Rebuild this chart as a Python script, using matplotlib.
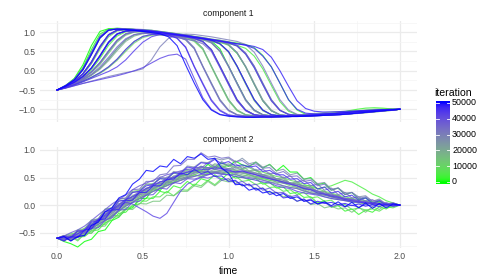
import numpy as np
import matplotlib
matplotlib.use("Agg")
import matplotlib.pyplot as plt
from matplotlib.colors import ListedColormap, Normalize

# ---------------- data ----------------
time1 = np.round(np.arange(41) * 0.05, 2)   # sample times, component 1
time2 = np.round(np.arange(51) * 0.04, 2)   # sample times, component 2

comp1_iteration = [0, 2500, 5000, 7500, 10000, 12500, 15000, 17500, 20000, 22500, 25000,
                   27500, 30000, 32500, 35000, 37500, 40000, 42500, 45000, 47500, 49000, 50000,
                   1000, 4000, 9000, 14000, 19000, 24000, 29000, 34000, 39000, 44000, 46000,
                   48000, 36000, 11000]
comp1_values = [
    [-0.5,-0.38,-0.2,0.15,0.65,1.02,1.09,1.1,1.09,1.07,1.06,1.04,1.01,0.98,0.95,0.92,0.88,0.85,0.77,0.57,0.12,-0.32,-0.75,-1.02,-1.14,-1.17,-1.18,-1.17,-1.16,-1.15,-1.14,-1.13,-1.12,-1.1,-1.09,-1.08,-1.06,-1.05,-1.03,-1.02,-1.0],
    [-0.5,-0.4,-0.27,-0.08,0.22,0.62,0.93,1.05,1.07,1.06,1.05,1.05,1.02,0.99,0.96,0.93,0.89,0.86,0.82,0.79,0.75,0.72,0.68,0.6,0.4,0.1,-0.32,-0.75,-1.02,-1.13,-1.15,-1.15,-1.13,-1.09,-1.04,-1.0,-0.97,-0.96,-0.97,-0.99,-1.0],
    [-0.5,-0.43,-0.34,-0.24,-0.11,0.06,0.3,0.57,0.8,0.93,0.98,0.99,0.96,0.93,0.9,0.87,0.79,0.58,0.12,-0.32,-0.75,-1.02,-1.14,-1.17,-1.18,-1.18,-1.17,-1.17,-1.16,-1.15,-1.14,-1.13,-1.12,-1.11,-1.1,-1.09,-1.07,-1.06,-1.04,-1.02,-1.0],
    [-0.5,-0.39,-0.24,0.02,0.42,0.85,1.05,1.09,1.08,1.07,1.05,1.02,0.99,0.96,0.93,0.9,0.86,0.83,0.79,0.7,0.5,0.12,-0.32,-0.75,-1.02,-1.14,-1.17,-1.18,-1.17,-1.16,-1.14,-1.12,-1.1,-1.08,-1.06,-1.04,-1.02,-1.0,-0.99,-0.99,-1.0],
    [-0.5,-0.42,-0.32,-0.2,-0.03,0.2,0.5,0.78,0.95,1.01,1.02,1.0,0.97,0.94,0.91,0.88,0.84,0.76,0.55,0.12,-0.32,-0.75,-1.02,-1.14,-1.17,-1.19,-1.19,-1.18,-1.18,-1.17,-1.16,-1.15,-1.14,-1.13,-1.11,-1.1,-1.08,-1.06,-1.04,-1.02,-1.0],
    [-0.5,-0.41,-0.3,-0.15,0.07,0.38,0.73,0.95,1.03,1.05,1.04,1.03,1.0,0.97,0.94,0.91,0.87,0.84,0.8,0.77,0.73,0.65,0.45,0.12,-0.32,-0.75,-1.02,-1.13,-1.16,-1.16,-1.15,-1.14,-1.12,-1.1,-1.08,-1.06,-1.04,-1.03,-1.02,-1.01,-1.0],
    [-0.5,-0.44,-0.36,-0.27,-0.17,-0.05,0.1,0.3,0.55,0.76,0.89,0.94,0.94,0.91,0.88,0.8,0.58,0.12,-0.32,-0.75,-1.02,-1.14,-1.18,-1.2,-1.2,-1.2,-1.19,-1.19,-1.18,-1.17,-1.16,-1.15,-1.14,-1.13,-1.12,-1.1,-1.08,-1.06,-1.04,-1.02,-1.0],
    [-0.5,-0.4,-0.27,-0.08,0.22,0.62,0.93,1.05,1.07,1.06,1.04,1.02,0.99,0.96,0.93,0.9,0.86,0.83,0.72,0.5,0.12,-0.32,-0.75,-1.02,-1.14,-1.17,-1.17,-1.16,-1.15,-1.13,-1.11,-1.09,-1.07,-1.06,-1.05,-1.04,-1.03,-1.02,-1.01,-1.0,-1.0],
    [-0.5,-0.42,-0.32,-0.2,-0.03,0.2,0.5,0.78,0.95,1.01,1.03,1.04,1.01,0.98,0.95,0.92,0.88,0.85,0.81,0.78,0.68,0.47,0.12,-0.32,-0.75,-1.02,-1.14,-1.17,-1.18,-1.17,-1.16,-1.15,-1.13,-1.11,-1.09,-1.07,-1.05,-1.04,-1.02,-1.01,-1.0],
    [-0.5,-0.39,-0.24,0.02,0.42,0.85,1.05,1.09,1.08,1.06,1.03,1.01,0.98,0.95,0.92,0.89,0.8,0.58,0.12,-0.32,-0.75,-1.02,-1.14,-1.17,-1.18,-1.18,-1.17,-1.16,-1.15,-1.14,-1.13,-1.12,-1.11,-1.1,-1.09,-1.08,-1.07,-1.05,-1.03,-1.02,-1.0],
    [-0.5,-0.41,-0.3,-0.15,0.07,0.38,0.73,0.95,1.03,1.03,1.0,0.98,0.95,0.92,0.89,0.86,0.82,0.74,0.54,0.12,-0.32,-0.75,-1.02,-1.14,-1.17,-1.18,-1.18,-1.17,-1.16,-1.15,-1.14,-1.13,-1.12,-1.11,-1.1,-1.08,-1.07,-1.05,-1.03,-1.02,-1.0],
    [-0.5,-0.43,-0.34,-0.24,-0.11,0.06,0.3,0.57,0.8,0.93,0.98,1.0,0.97,0.94,0.91,0.88,0.84,0.81,0.77,0.69,0.49,0.12,-0.32,-0.75,-1.02,-1.14,-1.17,-1.18,-1.17,-1.16,-1.15,-1.13,-1.11,-1.09,-1.07,-1.05,-1.03,-1.02,-1.01,-1.0,-1.0],
    [-0.5,-0.45,-0.39,-0.33,-0.27,-0.21,-0.15,-0.1,-0.05,-0.01,0.05,0.28,0.62,0.84,0.93,0.95,0.94,0.91,0.88,0.84,0.8,0.76,0.68,0.48,0.12,-0.32,-0.75,-1.02,-1.13,-1.16,-1.17,-1.16,-1.14,-1.12,-1.1,-1.08,-1.06,-1.04,-1.02,-1.01,-1.0],
    [-0.5,-0.4,-0.27,-0.08,0.22,0.62,0.93,1.05,1.07,1.05,1.02,1.0,0.97,0.94,0.91,0.83,0.6,0.12,-0.32,-0.75,-1.02,-1.14,-1.17,-1.19,-1.19,-1.19,-1.18,-1.18,-1.17,-1.17,-1.16,-1.15,-1.14,-1.13,-1.12,-1.1,-1.08,-1.06,-1.04,-1.02,-1.0],
    [-0.5,-0.42,-0.32,-0.2,-0.03,0.2,0.5,0.78,0.95,1.01,1.03,1.03,1.0,0.97,0.94,0.91,0.87,0.84,0.74,0.52,0.12,-0.32,-0.75,-1.02,-1.14,-1.17,-1.18,-1.18,-1.17,-1.16,-1.15,-1.13,-1.12,-1.1,-1.09,-1.07,-1.06,-1.04,-1.03,-1.01,-1.0],
    [-0.5,-0.39,-0.24,0.02,0.42,0.85,1.05,1.09,1.09,1.08,1.07,1.05,1.02,0.99,0.96,0.93,0.89,0.86,0.82,0.79,0.75,0.66,0.46,0.12,-0.32,-0.75,-1.02,-1.14,-1.17,-1.17,-1.16,-1.14,-1.12,-1.1,-1.08,-1.06,-1.04,-1.03,-1.02,-1.01,-1.0],
    [-0.5,-0.41,-0.3,-0.15,0.07,0.38,0.73,0.95,1.03,1.04,1.02,1.0,0.97,0.94,0.85,0.62,0.12,-0.32,-0.75,-1.02,-1.14,-1.18,-1.2,-1.2,-1.2,-1.2,-1.19,-1.19,-1.18,-1.18,-1.17,-1.16,-1.15,-1.14,-1.12,-1.1,-1.08,-1.06,-1.04,-1.02,-1.0],
    [-0.5,-0.45,-0.39,-0.33,-0.28,-0.23,-0.18,-0.13,-0.07,0.0,0.08,0.2,0.32,0.4,0.43,0.3,-0.2,-0.7,-1.0,-1.13,-1.17,-1.18,-1.18,-1.18,-1.17,-1.17,-1.16,-1.16,-1.15,-1.15,-1.14,-1.13,-1.12,-1.11,-1.1,-1.08,-1.06,-1.05,-1.03,-1.02,-1.0],
    [-0.5,-0.44,-0.36,-0.27,-0.17,-0.05,0.1,0.3,0.55,0.76,0.89,0.94,0.95,0.93,0.91,0.88,0.84,0.76,0.55,0.12,-0.32,-0.75,-1.02,-1.14,-1.17,-1.18,-1.18,-1.17,-1.17,-1.16,-1.15,-1.14,-1.13,-1.12,-1.1,-1.09,-1.07,-1.05,-1.03,-1.02,-1.0],
    [-0.5,-0.4,-0.27,-0.08,0.22,0.62,0.93,1.05,1.07,1.06,1.05,1.03,1.0,0.97,0.94,0.91,0.87,0.84,0.8,0.77,0.73,0.7,0.66,0.58,0.38,0.1,-0.32,-0.75,-1.0,-1.1,-1.12,-1.12,-1.11,-1.1,-1.08,-1.06,-1.05,-1.04,-1.02,-1.01,-1.0],
    [-0.5,-0.41,-0.3,-0.15,0.07,0.38,0.73,0.95,1.03,1.05,1.04,1.02,0.99,0.96,0.93,0.9,0.86,0.83,0.79,0.7,0.5,0.12,-0.32,-0.75,-1.02,-1.14,-1.17,-1.18,-1.17,-1.16,-1.15,-1.13,-1.12,-1.1,-1.08,-1.06,-1.05,-1.03,-1.02,-1.01,-1.0],
    [-0.5,-0.39,-0.24,0.02,0.42,0.85,1.05,1.08,1.07,1.05,1.02,0.99,0.96,0.88,0.65,0.15,-0.32,-0.75,-1.02,-1.14,-1.18,-1.2,-1.21,-1.21,-1.2,-1.2,-1.2,-1.19,-1.19,-1.18,-1.17,-1.16,-1.15,-1.14,-1.12,-1.1,-1.08,-1.06,-1.04,-1.02,-1.0],
    [-0.5,-0.39,-0.22,0.08,0.55,0.95,1.08,1.1,1.09,1.07,1.05,1.03,1.0,0.97,0.94,0.91,0.88,0.84,0.8,0.76,0.67,0.45,0.1,-0.35,-0.78,-1.04,-1.15,-1.17,-1.17,-1.16,-1.15,-1.13,-1.11,-1.1,-1.08,-1.07,-1.05,-1.04,-1.02,-1.01,-1.0],
    [-0.5,-0.42,-0.31,-0.17,0.03,0.32,0.66,0.9,1.01,1.04,1.04,1.02,0.99,0.96,0.92,0.89,0.85,0.81,0.77,0.73,0.7,0.66,0.58,0.38,0.05,-0.38,-0.8,-1.05,-1.14,-1.16,-1.16,-1.15,-1.13,-1.11,-1.09,-1.07,-1.05,-1.04,-1.02,-1.01,-1.0],
    [-0.5,-0.4,-0.28,-0.1,0.18,0.56,0.88,1.03,1.06,1.05,1.03,1.0,0.96,0.92,0.88,0.84,0.76,0.55,0.1,-0.35,-0.78,-1.04,-1.15,-1.18,-1.19,-1.19,-1.18,-1.18,-1.17,-1.16,-1.16,-1.15,-1.14,-1.13,-1.12,-1.1,-1.09,-1.07,-1.05,-1.03,-1.0],
    [-0.5,-0.42,-0.33,-0.21,-0.05,0.16,0.45,0.74,0.92,1.0,1.02,1.01,0.98,0.95,0.92,0.88,0.85,0.81,0.78,0.7,0.48,0.1,-0.35,-0.78,-1.04,-1.14,-1.17,-1.18,-1.18,-1.17,-1.16,-1.15,-1.13,-1.12,-1.1,-1.08,-1.06,-1.04,-1.03,-1.01,-1.0],
    [-0.5,-0.43,-0.35,-0.25,-0.12,0.04,0.26,0.52,0.76,0.9,0.96,0.98,0.97,0.95,0.92,0.89,0.86,0.82,0.79,0.75,0.72,0.64,0.43,0.08,-0.36,-0.78,-1.03,-1.13,-1.16,-1.16,-1.15,-1.14,-1.12,-1.1,-1.08,-1.06,-1.05,-1.03,-1.02,-1.01,-1.0],
    [-0.5,-0.38,-0.22,0.06,0.48,0.9,1.07,1.09,1.08,1.06,1.04,1.01,0.98,0.94,0.91,0.87,0.84,0.8,0.72,0.5,0.1,-0.35,-0.78,-1.04,-1.15,-1.18,-1.19,-1.19,-1.18,-1.17,-1.16,-1.15,-1.14,-1.12,-1.1,-1.09,-1.07,-1.05,-1.03,-1.02,-1.0],
    [-0.5,-0.41,-0.28,-0.1,0.2,0.6,0.92,1.05,1.07,1.06,1.04,1.02,0.99,0.96,0.93,0.9,0.86,0.83,0.8,0.76,0.68,0.47,0.1,-0.35,-0.78,-1.04,-1.14,-1.17,-1.17,-1.17,-1.16,-1.15,-1.13,-1.12,-1.1,-1.08,-1.06,-1.04,-1.03,-1.01,-1.0],
    [-0.5,-0.42,-0.32,-0.19,-0.02,0.22,0.52,0.8,0.96,1.02,1.02,0.99,0.95,0.92,0.88,0.8,0.57,0.1,-0.35,-0.78,-1.04,-1.15,-1.19,-1.2,-1.2,-1.2,-1.19,-1.19,-1.18,-1.18,-1.17,-1.16,-1.15,-1.14,-1.13,-1.11,-1.09,-1.07,-1.05,-1.03,-1.0],
    [-0.5,-0.4,-0.27,-0.08,0.24,0.64,0.94,1.06,1.08,1.07,1.05,1.02,0.99,0.95,0.92,0.88,0.84,0.76,0.54,0.1,-0.35,-0.78,-1.04,-1.15,-1.18,-1.19,-1.19,-1.18,-1.18,-1.17,-1.16,-1.15,-1.14,-1.13,-1.12,-1.1,-1.08,-1.06,-1.04,-1.02,-1.0],
    [-0.5,-0.44,-0.37,-0.29,-0.2,-0.11,-0.02,0.1,0.28,0.52,0.74,0.88,0.94,0.95,0.93,0.9,0.87,0.83,0.8,0.76,0.72,0.64,0.43,0.08,-0.36,-0.78,-1.03,-1.13,-1.16,-1.16,-1.15,-1.14,-1.12,-1.1,-1.08,-1.06,-1.05,-1.03,-1.02,-1.01,-1.0],
    [-0.5,-0.38,-0.23,0.05,0.47,0.88,1.06,1.08,1.07,1.05,1.02,0.99,0.96,0.92,0.84,0.6,0.1,-0.35,-0.78,-1.04,-1.16,-1.19,-1.2,-1.2,-1.2,-1.2,-1.19,-1.19,-1.18,-1.18,-1.17,-1.16,-1.15,-1.14,-1.12,-1.1,-1.08,-1.06,-1.04,-1.02,-1.0],
    [-0.5,-0.41,-0.3,-0.15,0.07,0.4,0.75,0.96,1.03,1.04,1.03,1.02,1.0,0.97,0.94,0.91,0.88,0.84,0.81,0.77,0.74,0.7,0.67,0.63,0.55,0.35,0.0,-0.4,-0.78,-0.98,-1.05,-1.07,-1.07,-1.06,-1.05,-1.04,-1.03,-1.02,-1.01,-1.0,-1.0],
    [-0.5,-0.43,-0.34,-0.23,-0.09,0.1,0.35,0.62,0.83,0.94,0.97,0.96,0.93,0.9,0.86,0.82,0.78,0.7,0.5,0.08,-0.36,-0.78,-1.03,-1.14,-1.17,-1.18,-1.18,-1.17,-1.17,-1.16,-1.15,-1.14,-1.13,-1.12,-1.11,-1.09,-1.07,-1.05,-1.03,-1.02,-1.0],
    [-0.5,-0.44,-0.37,-0.28,-0.18,-0.07,0.08,0.27,0.5,0.72,0.86,0.92,0.93,0.91,0.89,0.86,0.83,0.8,0.77,0.74,0.66,0.46,0.1,-0.35,-0.78,-1.04,-1.14,-1.17,-1.18,-1.17,-1.16,-1.14,-1.13,-1.11,-1.09,-1.07,-1.05,-1.04,-1.02,-1.01,-1.0],
]

comp2_iteration = [0, 2000, 4000, 6000, 8000, 10000, 12000, 14000, 16000, 18000, 20000, 22000, 24000,
                   26000, 28000, 30000, 32000, 34000, 36000, 38000, 40000, 42000, 44000, 46000, 48000, 50000]
comp2_values = [
    [-0.6,-0.66,-0.7,-0.76,-0.66,-0.62,-0.48,-0.45,-0.28,-0.22,-0.08,-0.05,0.12,0.12,0.3,0.26,0.42,0.4,0.53,0.55,0.63,0.62,0.74,0.65,0.77,0.7,0.8,0.73,0.7,0.78,0.67,0.74,0.62,0.72,0.6,0.6,0.47,0.5,0.37,0.4,0.27,0.31,0.19,0.23,0.11,0.13,0.05,0.07,0.0,0.03,0.0],
    [-0.6,-0.56,-0.64,-0.58,-0.57,-0.47,-0.45,-0.32,-0.27,-0.15,-0.13,0.0,0.02,0.13,0.12,0.25,0.22,0.35,0.31,0.43,0.35,0.48,0.44,0.55,0.47,0.58,0.49,0.51,0.46,0.48,0.38,0.41,0.31,0.33,0.21,0.23,0.14,0.15,0.04,0.08,-0.04,-0.01,-0.11,-0.07,-0.17,-0.09,-0.13,-0.03,-0.07,0.0,0.0],
    [-0.6,-0.6,-0.56,-0.58,-0.5,-0.44,-0.35,-0.28,-0.2,-0.12,-0.02,0.05,0.12,0.18,0.25,0.3,0.35,0.42,0.45,0.5,0.55,0.52,0.58,0.6,0.56,0.6,0.55,0.52,0.55,0.5,0.48,0.45,0.46,0.42,0.4,0.38,0.35,0.36,0.3,0.32,0.35,0.4,0.45,0.42,0.35,0.28,0.2,0.15,0.08,0.04,0.0],
    [-0.6,-0.64,-0.57,-0.65,-0.52,-0.51,-0.37,-0.35,-0.19,-0.19,-0.05,-0.03,0.08,0.07,0.15,0.15,0.25,0.17,0.28,0.27,0.38,0.35,0.45,0.37,0.48,0.45,0.53,0.43,0.45,0.37,0.41,0.32,0.33,0.25,0.28,0.19,0.23,0.13,0.15,0.07,0.09,-0.01,0.01,-0.08,-0.05,-0.09,-0.07,-0.11,-0.03,-0.05,0.0],
    [-0.6,-0.56,-0.52,-0.5,-0.42,-0.35,-0.25,-0.18,-0.08,0.0,0.08,0.15,0.2,0.28,0.35,0.38,0.45,0.5,0.52,0.58,0.62,0.6,0.65,0.7,0.68,0.72,0.7,0.66,0.68,0.62,0.6,0.56,0.52,0.5,0.45,0.42,0.38,0.33,0.3,0.25,0.22,0.18,0.15,0.12,0.1,0.08,0.05,0.04,0.02,0.01,0.0],
    [-0.6,-0.6,-0.63,-0.58,-0.55,-0.46,-0.4,-0.3,-0.18,-0.1,0.0,0.05,0.15,0.2,0.28,0.32,0.38,0.45,0.48,0.52,0.55,0.6,0.58,0.62,0.6,0.58,0.62,0.58,0.55,0.52,0.5,0.45,0.42,0.4,0.35,0.32,0.28,0.22,0.2,0.18,0.15,0.12,0.1,0.06,0.05,0.02,0.03,0.0,0.01,0.0,0.0],
    [-0.6,-0.56,-0.58,-0.45,-0.43,-0.27,-0.25,-0.07,-0.05,0.11,0.12,0.25,0.27,0.38,0.39,0.48,0.47,0.58,0.55,0.65,0.62,0.71,0.63,0.73,0.69,0.73,0.63,0.65,0.61,0.63,0.53,0.55,0.47,0.48,0.39,0.41,0.29,0.33,0.22,0.25,0.15,0.18,0.09,0.13,0.05,0.08,0.01,0.05,0.0,0.03,0.0],
    [-0.6,-0.65,-0.55,-0.63,-0.52,-0.51,-0.39,-0.38,-0.22,-0.21,-0.07,-0.08,0.03,0.02,0.07,0.07,0.18,0.17,0.25,0.25,0.35,0.32,0.43,0.35,0.45,0.42,0.43,0.35,0.38,0.29,0.31,0.22,0.23,0.15,0.18,0.07,0.11,0.01,0.03,-0.05,-0.02,-0.07,-0.05,-0.13,-0.04,-0.13,-0.03,-0.08,0.01,-0.03,0.0],
    [-0.6,-0.6,-0.55,-0.52,-0.45,-0.38,-0.3,-0.2,-0.12,-0.02,0.05,0.12,0.2,0.25,0.32,0.35,0.42,0.48,0.5,0.55,0.6,0.62,0.68,0.65,0.7,0.66,0.62,0.6,0.56,0.58,0.52,0.5,0.45,0.42,0.4,0.35,0.3,0.28,0.22,0.2,0.16,0.14,0.1,0.08,0.06,0.05,0.02,0.03,0.0,0.01,0.0],
    [-0.6,-0.64,-0.6,-0.56,-0.5,-0.42,-0.32,-0.25,-0.15,-0.05,0.02,0.1,0.15,0.22,0.28,0.35,0.38,0.42,0.48,0.5,0.55,0.52,0.56,0.6,0.58,0.62,0.58,0.55,0.52,0.5,0.46,0.42,0.4,0.35,0.32,0.3,0.25,0.22,0.2,0.15,0.12,0.1,0.08,0.05,0.04,0.02,0.03,0.01,0.0,-0.01,0.0],
    [-0.6,-0.55,-0.59,-0.47,-0.49,-0.33,-0.31,-0.15,-0.13,0.03,0.03,0.18,0.19,0.31,0.32,0.43,0.42,0.53,0.52,0.63,0.59,0.69,0.67,0.75,0.72,0.75,0.67,0.71,0.62,0.65,0.55,0.58,0.47,0.51,0.39,0.43,0.32,0.33,0.25,0.25,0.17,0.18,0.09,0.13,0.05,0.08,0.01,0.05,0.0,0.02,0.0],
    [-0.6,-0.6,-0.62,-0.58,-0.5,-0.42,-0.35,-0.25,-0.18,-0.08,0.0,0.08,0.12,0.2,0.25,0.3,0.35,0.4,0.45,0.48,0.52,0.55,0.6,0.58,0.62,0.6,0.58,0.6,0.55,0.52,0.5,0.48,0.42,0.4,0.38,0.32,0.3,0.25,0.22,0.2,0.15,0.12,0.1,0.08,0.05,0.06,0.03,0.02,0.0,0.01,0.0],
    [-0.6,-0.57,-0.6,-0.55,-0.48,-0.4,-0.3,-0.22,-0.12,-0.05,0.05,0.1,0.18,0.25,0.3,0.38,0.42,0.45,0.52,0.55,0.58,0.62,0.6,0.65,0.62,0.66,0.64,0.6,0.62,0.58,0.55,0.5,0.48,0.45,0.4,0.38,0.35,0.3,0.26,0.22,0.2,0.16,0.12,0.1,0.08,0.06,0.04,0.03,0.01,0.0,0.0],
    [-0.6,-0.57,-0.58,-0.47,-0.45,-0.29,-0.28,-0.12,-0.08,0.08,0.09,0.23,0.25,0.38,0.37,0.51,0.49,0.61,0.59,0.71,0.69,0.78,0.77,0.85,0.82,0.85,0.77,0.85,0.75,0.78,0.69,0.73,0.62,0.65,0.55,0.58,0.47,0.48,0.39,0.41,0.29,0.31,0.22,0.23,0.15,0.17,0.07,0.11,0.02,0.04,0.0],
    [-0.6,-0.62,-0.58,-0.54,-0.5,-0.4,-0.32,-0.22,-0.15,-0.05,0.02,0.1,0.18,0.22,0.3,0.35,0.4,0.45,0.48,0.52,0.58,0.6,0.62,0.6,0.64,0.62,0.6,0.58,0.6,0.55,0.52,0.5,0.45,0.42,0.4,0.35,0.32,0.28,0.25,0.2,0.18,0.15,0.12,0.1,0.06,0.05,0.03,0.02,0.01,0.0,0.0],
    [-0.6,-0.58,-0.54,-0.52,-0.44,-0.35,-0.26,-0.15,-0.08,0.02,0.1,0.16,0.25,0.3,0.36,0.42,0.46,0.52,0.56,0.6,0.64,0.68,0.66,0.7,0.68,0.66,0.68,0.64,0.6,0.58,0.55,0.52,0.48,0.45,0.4,0.38,0.34,0.3,0.25,0.22,0.2,0.16,0.12,0.1,0.08,0.05,0.04,0.02,0.01,0.01,0.0],
    [-0.6,-0.65,-0.57,-0.58,-0.45,-0.41,-0.27,-0.23,-0.07,-0.05,0.11,0.12,0.25,0.27,0.39,0.39,0.51,0.49,0.61,0.59,0.69,0.67,0.77,0.69,0.79,0.71,0.75,0.67,0.71,0.63,0.65,0.57,0.58,0.49,0.53,0.42,0.45,0.35,0.38,0.27,0.31,0.19,0.23,0.13,0.15,0.07,0.1,0.02,0.05,0.0,0.0],
    [-0.6,-0.55,-0.58,-0.47,-0.45,-0.29,-0.25,-0.09,-0.05,0.11,0.13,0.28,0.29,0.43,0.43,0.55,0.57,0.71,0.72,0.83,0.83,0.95,0.87,0.89,0.85,0.87,0.79,0.81,0.72,0.75,0.67,0.68,0.57,0.61,0.52,0.53,0.43,0.45,0.35,0.38,0.27,0.31,0.19,0.23,0.12,0.15,0.07,0.09,0.02,0.04,0.0],
    [-0.6,-0.6,-0.62,-0.56,-0.5,-0.42,-0.35,-0.28,-0.2,-0.1,-0.02,0.05,0.12,0.18,0.25,0.3,0.36,0.4,0.45,0.5,0.52,0.56,0.55,0.6,0.58,0.55,0.56,0.52,0.5,0.48,0.45,0.42,0.38,0.35,0.32,0.3,0.26,0.22,0.2,0.18,0.15,0.12,0.1,0.08,0.06,0.05,0.03,0.02,0.0,0.01,0.0],
    [-0.6,-0.56,-0.5,-0.45,-0.38,-0.28,-0.18,-0.08,0.02,0.1,0.18,0.28,0.35,0.4,0.45,0.5,0.55,0.58,0.62,0.65,0.66,0.7,0.68,0.65,0.66,0.62,0.6,0.62,0.58,0.55,0.5,0.48,0.45,0.4,0.38,0.35,0.3,0.28,0.25,0.2,0.18,0.15,0.12,0.1,0.08,0.06,0.04,0.02,0.02,0.0,0.0],
    [-0.6,-0.57,-0.65,-0.57,-0.55,-0.42,-0.41,-0.27,-0.23,-0.09,-0.08,0.05,0.07,0.18,0.19,0.31,0.29,0.41,0.39,0.48,0.47,0.51,0.49,0.53,0.45,0.48,0.39,0.43,0.35,0.38,0.27,0.31,0.22,0.23,0.15,0.18,0.07,0.11,0.02,0.05,-0.03,0.01,-0.03,0.0,-0.04,0.01,-0.02,0.02,-0.02,0.01,0.0],
    [-0.6,-0.62,-0.58,-0.52,-0.45,-0.38,-0.28,-0.2,-0.1,-0.02,0.05,0.02,-0.05,-0.12,-0.2,-0.24,-0.15,0.05,0.25,0.38,0.45,0.5,0.55,0.58,0.56,0.55,0.52,0.5,0.48,0.45,0.42,0.4,0.35,0.32,0.3,0.25,0.22,0.2,0.18,0.15,0.12,0.1,0.08,0.06,0.05,0.04,0.02,0.02,0.0,0.01,0.0],
    [-0.6,-0.58,-0.6,-0.52,-0.46,-0.36,-0.26,-0.18,-0.08,0.0,0.1,0.15,0.22,0.3,0.35,0.42,0.45,0.5,0.55,0.6,0.62,0.65,0.64,0.68,0.66,0.64,0.6,0.62,0.58,0.55,0.52,0.48,0.45,0.42,0.38,0.35,0.3,0.28,0.22,0.2,0.16,0.14,0.1,0.08,0.06,0.04,0.03,0.01,0.02,0.0,0.0],
    [-0.6,-0.57,-0.59,-0.47,-0.47,-0.31,-0.28,-0.12,-0.09,0.07,0.09,0.23,0.25,0.35,0.37,0.48,0.47,0.59,0.57,0.69,0.67,0.77,0.75,0.83,0.75,0.79,0.71,0.73,0.69,0.71,0.61,0.63,0.55,0.55,0.47,0.48,0.39,0.41,0.29,0.33,0.22,0.25,0.15,0.18,0.09,0.13,0.03,0.08,0.0,0.03,0.0],
    [-0.6,-0.65,-0.57,-0.59,-0.45,-0.43,-0.27,-0.25,-0.09,-0.08,0.08,0.09,0.23,0.23,0.35,0.35,0.47,0.47,0.58,0.55,0.65,0.57,0.61,0.52,0.53,0.43,0.45,0.35,0.38,0.27,0.31,0.19,0.23,0.13,0.15,0.07,0.11,0.02,0.07,0.03,0.05,0.01,0.03,-0.01,0.02,-0.02,0.01,-0.03,0.02,-0.02,0.0],
    [-0.6,-0.57,-0.65,-0.57,-0.55,-0.37,-0.31,-0.12,-0.05,0.13,0.19,0.38,0.47,0.63,0.61,0.71,0.69,0.83,0.75,0.88,0.85,0.93,0.83,0.85,0.67,0.58,0.37,0.38,0.27,0.31,0.22,0.25,0.17,0.21,0.12,0.15,0.07,0.09,0.02,0.06,-0.01,0.06,-0.03,0.05,-0.05,0.04,-0.06,0.03,-0.05,0.02,0.0],
]

iter_breaks = [0, 10000, 20000, 30000, 40000, 50000]
iter_labels = ["0", "10000", "20000", "30000", "40000", "50000"]
x_breaks = [0.0, 0.5, 1.0, 1.5, 2.0]
x_labels = ["0.0", "0.5", "1.0", "1.5", "2.0"]
y1_breaks = [-1.0, -0.5, 0.0, 0.5, 1.0]
y2_breaks = [-0.5, 0.0, 0.5, 1.0]

# ---------------- colour scale (Lab interpolation green -> blue) ----------------
def srgb_to_lab(rgb):
    rgb = np.asarray(rgb, float)
    lin = np.where(rgb <= 0.04045, rgb / 12.92, ((rgb + 0.055) / 1.055) ** 2.4)
    M = np.array([[0.4124564, 0.3575761, 0.1804375],
                  [0.2126729, 0.7151522, 0.0721750],
                  [0.0193339, 0.1191920, 0.9503041]])
    xyz = M @ lin / np.array([0.95047, 1.0, 1.08883])
    d = 6 / 29
    f = np.where(xyz > d ** 3, np.cbrt(xyz), xyz / (3 * d * d) + 4 / 29)
    return np.array([116 * f[1] - 16, 500 * (f[0] - f[1]), 200 * (f[1] - f[2])])

def lab_to_srgb(lab):
    L, a, b = lab
    fy = (L + 16) / 116
    fx = fy + a / 500
    fz = fy - b / 200
    d = 6 / 29
    finv = lambda t: np.where(t > d, t ** 3, 3 * d * d * (t - 4 / 29))
    xyz = np.array([finv(fx), finv(fy), finv(fz)]) * np.array([0.95047, 1.0, 1.08883])
    Minv = np.array([[3.2404542, -1.5371385, -0.4985314],
                     [-0.9692660, 1.8760108, 0.0415560],
                     [0.0556434, -0.2040259, 1.0572252]])
    lin = np.clip(Minv @ xyz, 0, 1)
    return np.where(lin <= 0.0031308, 12.92 * lin, 1.055 * lin ** (1 / 2.4) - 0.055)

lab_lo = srgb_to_lab([0, 1, 0])
lab_hi = srgb_to_lab([0, 0, 1])
cols = [lab_to_srgb(lab_lo + (lab_hi - lab_lo) * s) for s in np.linspace(0, 1, 256)]
cmap = ListedColormap(np.clip(cols, 0, 1))
norm = Normalize(0, 50000)

# ---------------- figure ----------------
W, H = 490, 280
plt.rcParams['font.family'] = ['Liberation Sans', 'DejaVu Sans']
fig = plt.figure(figsize=(W / 100, H / 100), dpi=100)

def px_axes(x0, y0, x1, y1):
    return fig.add_axes([x0 / W, 1 - y1 / H, (x1 - x0) / W, (y1 - y0) / H])

ax1 = px_axes(40, 21, 417, 122)
ax2 = px_axes(40, 147, 417, 248)

def style(ax, ylim, ybreaks, show_x):
    ax.set_xlim(-0.1, 2.1)
    ax.set_ylim(*ylim)
    for s in ax.spines.values():
        s.set_visible(False)
    ax.set_facecolor('white')
    for v in [-0.25 + 0.5 * k for k in range(6)]:
        ax.axvline(v, color='#F4F4F4', lw=0.5, zorder=0)
    for v in x_breaks:
        ax.axvline(v, color='#EBEBEB', lw=0.9, zorder=0)
    for v in np.arange(-1.25, 1.5, 0.5):
        ax.axhline(v, color='#F4F4F4', lw=0.5, zorder=0)
    for v in ybreaks:
        ax.axhline(v, color='#EBEBEB', lw=0.9, zorder=0)
    ax.set_xticks(x_breaks)
    ax.set_yticks(ybreaks)
    ax.set_yticklabels([f"{v:.1f}".replace('-', '\u2212') for v in ybreaks])
    ax.tick_params(length=0, labelsize=6.2, labelcolor='#4D4D4D', pad=3)
    if show_x:
        ax.set_xticklabels(x_labels)
    else:
        ax.set_xticklabels([])

style(ax1, (-1.33, 1.29), y1_breaks, False)
style(ax2, (-0.778, 1.054), y2_breaks, True)

for k in np.argsort(comp1_iteration, kind='stable'):
    ax1.plot(time1, comp1_values[k], color=cmap(norm(comp1_iteration[k])), lw=0.8, alpha=0.8, zorder=2)
for k in np.argsort(comp2_iteration, kind='stable'):
    ax2.plot(time2, comp2_values[k], color=cmap(norm(comp2_iteration[k])), lw=0.8, alpha=0.8, zorder=2)

fig.text(228.5 / W, 1 - 14 / H, "component 1", ha='center', va='center', fontsize=6.3, color='#1A1A1A')
fig.text(228.5 / W, 1 - 139 / H, "component 2", ha='center', va='center', fontsize=6.3, color='#1A1A1A')
fig.text(228.5 / W, 1 - 270.5 / H, "time", ha='center', va='center', fontsize=7.3, color='black')

# colour bar
cax = px_axes(436, 100.7, 450, 184)
lo, hi = -1300, 51400
grad = np.linspace(lo, hi, 300).reshape(-1, 1)
cax.imshow(grad, aspect='auto', cmap=cmap, norm=norm, origin='lower', extent=(0, 1, lo, hi))
cax.set_xlim(0, 1)
cax.set_ylim(lo, hi)
for s in cax.spines.values():
    s.set_visible(False)
cax.set_xticks([])
cax.set_yticks([])
for b, lab in zip(iter_breaks, iter_labels):
    cax.plot([0, 0.2], [b, b], color='white', lw=0.6)
    cax.plot([0.8, 1.0], [b, b], color='white', lw=0.6)
    cax.text(1.15, b, lab, ha='left', va='center', fontsize=6.4, color='black', clip_on=False)
fig.text(434 / W, 1 - 93 / H, "iteration", ha='left', va='center', fontsize=7.6, color='black')

fig.savefig("out.png", dpi=100, facecolor='white')
